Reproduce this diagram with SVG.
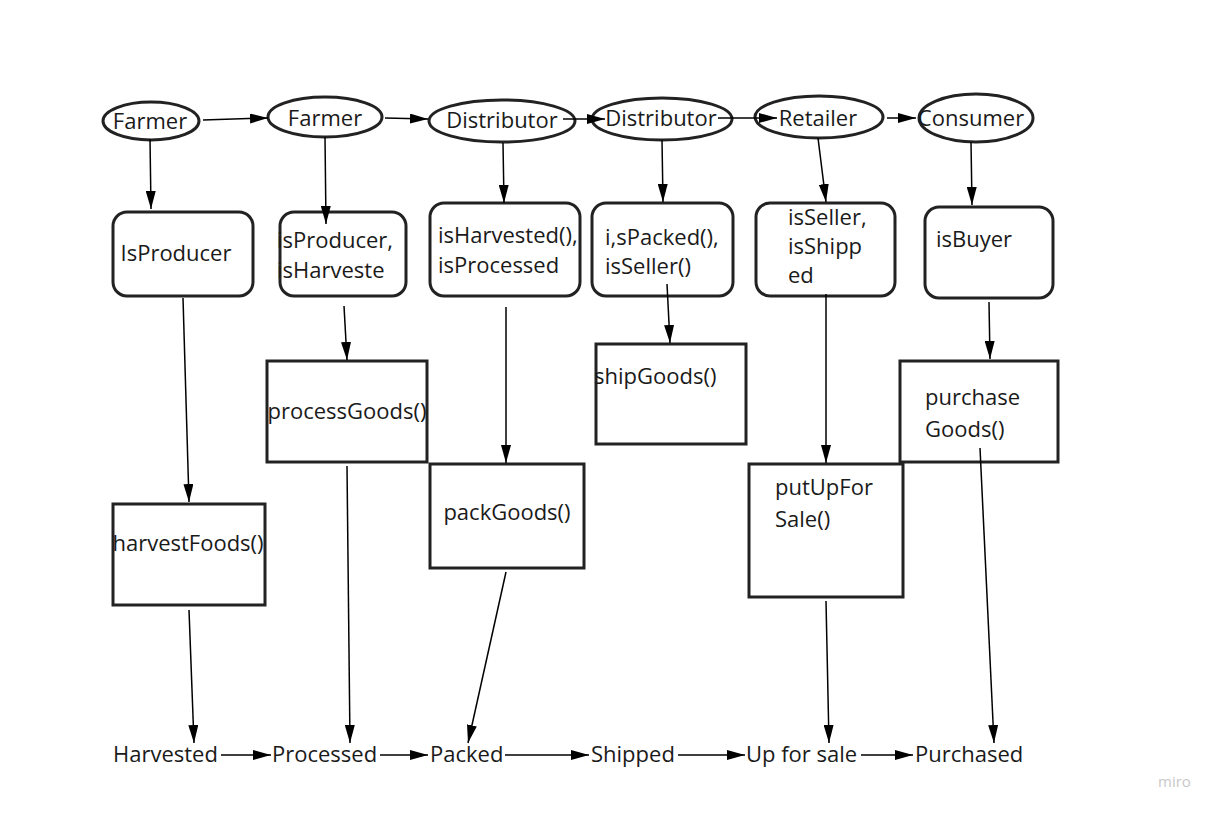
<svg xmlns="http://www.w3.org/2000/svg" width="1224" height="816" viewBox="0 0 1224 816">
<style>
.n{fill:#fff;stroke:#222;stroke-width:3}
.t{font-family:"Open Sans","Liberation Sans",sans-serif;font-size:22px;fill:#1a1a1a}
.c{stroke:#000;stroke-width:1.5;fill:none;marker-end:url(#ah)}
</style>
<defs>
<marker id="ah" viewBox="0 0 18 10" refX="18" refY="5" markerWidth="18" markerHeight="10" orient="auto" markerUnits="userSpaceOnUse"><path d="M0,0 L18,5 L0,10 Z" fill="#000"/></marker>
</defs>
<rect width="1224" height="816" fill="#fff"/>
<g id="farmer1"><ellipse class="n" cx="151" cy="121" rx="48" ry="19"/><text class="t" x="150" y="129" text-anchor="middle">Farmer</text></g>
<g id="farmer2"><ellipse class="n" cx="325" cy="117" rx="57" ry="20"/><text class="t" x="325" y="126" text-anchor="middle">Farmer</text></g>
<g id="distributor1"><ellipse class="n" cx="502" cy="121" rx="73" ry="21"/><text class="t" x="502" y="128" text-anchor="middle">Distributor</text></g>
<g id="distributor2"><ellipse class="n" cx="662" cy="119" rx="70" ry="21"/><text class="t" x="661" y="126" text-anchor="middle">Distributor</text></g>
<g id="retailer"><ellipse class="n" cx="819" cy="117" rx="64" ry="21"/><text class="t" x="818" y="126" text-anchor="middle">Retailer</text></g>
<g id="consumer"><ellipse class="n" cx="976" cy="118" rx="57" ry="24"/><text class="t" x="971" y="126" text-anchor="middle">Consumer</text></g>
<g id="isProducer"><rect class="n" x="113" y="212" width="140" height="84" rx="14"/><text class="t" x="176" y="261" text-anchor="middle">IsProducer</text></g>
<g id="isProducerHarvested"><rect class="n" x="280" y="212" width="126" height="84" rx="14"/><text class="t" x="277" y="248">isProducer,</text><text class="t" x="277" y="278">isHarveste</text></g>
<g id="isHarvested"><rect class="n" x="430" y="203" width="150" height="93" rx="14"/><text class="t" x="438" y="243">isHarvested(),</text><text class="t" x="438" y="273">isProcessed</text></g>
<g id="isPacked"><rect class="n" x="592" y="203" width="141" height="93" rx="14"/><text class="t" x="605" y="245">i,sPacked(),</text><text class="t" x="605" y="274">isSeller()</text></g>
<g id="isSeller"><rect class="n" x="756" y="203" width="139" height="93" rx="14"/><text class="t" x="788" y="225">isSeller,</text><text class="t" x="788" y="254">isShipp</text><text class="t" x="788" y="283">ed</text></g>
<g id="isBuyer"><rect class="n" x="925" y="207" width="128" height="91" rx="14"/><text class="t" x="936" y="247">isBuyer</text></g>
<g id="harvestFoods"><rect class="n" x="113" y="504" width="152" height="101"/><text class="t" x="188" y="551" text-anchor="middle">harvestFoods()</text></g>
<g id="processGoods"><rect class="n" x="267" y="361" width="160" height="101"/><text class="t" x="347" y="419" text-anchor="middle">processGoods()</text></g>
<g id="packGoods"><rect class="n" x="430" y="464" width="154" height="104"/><text class="t" x="507" y="520" text-anchor="middle">packGoods()</text></g>
<g id="shipGoods"><rect class="n" x="596" y="344" width="150" height="100"/><text class="t" x="594" y="384">shipGoods()</text></g>
<g id="putUpForSale"><rect class="n" x="749" y="464" width="154" height="133"/><text class="t" x="775" y="495">putUpFor</text><text class="t" x="775" y="527">Sale()</text></g>
<g id="purchaseGoods"><rect class="n" x="900" y="361" width="158" height="101"/><text class="t" x="925" y="405">purchase</text><text class="t" x="925" y="437">Goods()</text></g>
<g id="stateHarvested"><text class="t" x="113" y="762">Harvested</text></g>
<g id="stateProcessed"><text class="t" x="272" y="762">Processed</text></g>
<g id="statePacked"><text class="t" x="430" y="762">Packed</text></g>
<g id="stateShipped"><text class="t" x="591" y="762">Shipped</text></g>
<g id="stateUpForSale"><text class="t" x="746" y="762">Up for sale</text></g>
<g id="statePurchased"><text class="t" x="915" y="762">Purchased</text></g>
<g id="connectors">
<line class="c" x1="203" y1="120" x2="268" y2="118"/>
<line class="c" x1="385" y1="118" x2="428" y2="119"/>
<line class="c" x1="563" y1="119" x2="605" y2="119"/>
<line class="c" x1="718" y1="118" x2="777" y2="118"/>
<line class="c" x1="887" y1="118" x2="916" y2="118"/>
<line class="c" x1="150" y1="139" x2="151" y2="209"/>
<line class="c" x1="325" y1="137" x2="326" y2="224"/>
<line class="c" x1="503" y1="143" x2="504" y2="203"/>
<line class="c" x1="662" y1="140" x2="663" y2="202"/>
<line class="c" x1="818" y1="138" x2="826" y2="202"/>
<line class="c" x1="971" y1="142" x2="972" y2="205"/>
<line class="c" x1="183" y1="298" x2="189" y2="502"/>
<line class="c" x1="344" y1="306" x2="347" y2="360"/>
<line class="c" x1="506" y1="307" x2="506" y2="463"/>
<line class="c" x1="667" y1="284" x2="670" y2="343"/>
<line class="c" x1="826" y1="294" x2="826" y2="463"/>
<line class="c" x1="989" y1="302" x2="990" y2="359"/>
<line class="c" x1="189" y1="610" x2="194" y2="743"/>
<line class="c" x1="347" y1="466" x2="350" y2="743"/>
<line class="c" x1="506" y1="572" x2="468" y2="743"/>
<line class="c" x1="826" y1="601" x2="829" y2="743"/>
<line class="c" x1="980" y1="448" x2="994" y2="743"/>
<line class="c" x1="221" y1="755" x2="271" y2="755"/>
<line class="c" x1="380" y1="755" x2="428" y2="755"/>
<line class="c" x1="505" y1="755" x2="589" y2="755"/>
<line class="c" x1="678" y1="755" x2="745" y2="755"/>
<line class="c" x1="861" y1="755" x2="913" y2="755"/>
</g>
<text x="1158" y="787" font-family="'Open Sans','Liberation Sans',sans-serif" font-size="15" fill="#c8c8c8">miro</text>
</svg>
